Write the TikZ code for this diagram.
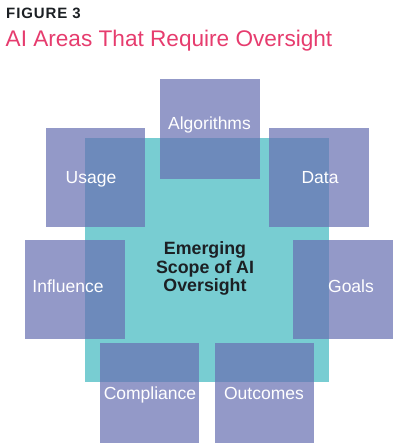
\documentclass[tikz,border=0pt]{standalone}
\usepackage{fontspec}
\setmainfont{Liberation Sans}
\definecolor{tealbg}{RGB}{120,205,210}
\definecolor{purp}{RGB}{106,113,179}
\definecolor{pinkt}{RGB}{230,60,110}
\definecolor{darkt}{RGB}{28,32,36}
\begin{document}
\begin{tikzpicture}[x=1pt,y=-1pt,
  box/.style={fill=purp, fill opacity=0.72, draw=none, minimum width=99.5pt, minimum height=99.5pt, inner sep=0pt},
  lbl/.style={text=white, inner sep=0pt, anchor=base, font=\fontsize{17.5}{20}\selectfont},
  core/.style={fill=tealbg, draw=none, minimum width=244pt, minimum height=244pt, inner sep=0pt}]
\useasboundingbox (0,0) rectangle (400,446);
% title
\node[anchor=base west, inner sep=0pt, text=darkt, font=\fontsize{15}{18}\selectfont\bfseries\addfontfeatures{LetterSpace=6}] (fig) at (6,18.3) {FIGURE 3};
\node[anchor=base west, inner sep=0pt, text=pinkt, font=\fontsize{22.6}{26}\selectfont] (title) at (5.5,47) {AI Areas That Require Oversight};
% core
\node[core] (core) at (207,260) {};
% boxes
\node[box] (alg) at (210,129) {};
\node[box] (usage) at (95.5,177.5) {};
\node[box] (data) at (319,177.5) {};
\node[box] (infl) at (75,289.5) {};
\node[box] (goals) at (343,289.5) {};
\node[box] (comp) at (149.5,393) {};
\node[box] (outc) at (264.5,393) {};
% labels
\node[lbl] (algL) at (209.5,130) {Algorithms};
\node[lbl] (usageL) at (91,183.3) {Usage};
\node[lbl] (dataL) at (320,183.3) {Data};
\node[lbl] (inflL) at (68,292.7) {Influence};
\node[lbl] (goalsL) at (351,292.7) {Goals};
\node[lbl] (compL) at (150,399) {Compliance};
\node[lbl] (outcL) at (264,399) {Outcomes};
% center text
\node[text=darkt, inner sep=0pt, align=center, font=\fontsize{17.8}{18.8}\selectfont\bfseries] (coreL) at (205,268.5) {Emerging\\Scope of AI\\Oversight};
\end{tikzpicture}
\end{document}
